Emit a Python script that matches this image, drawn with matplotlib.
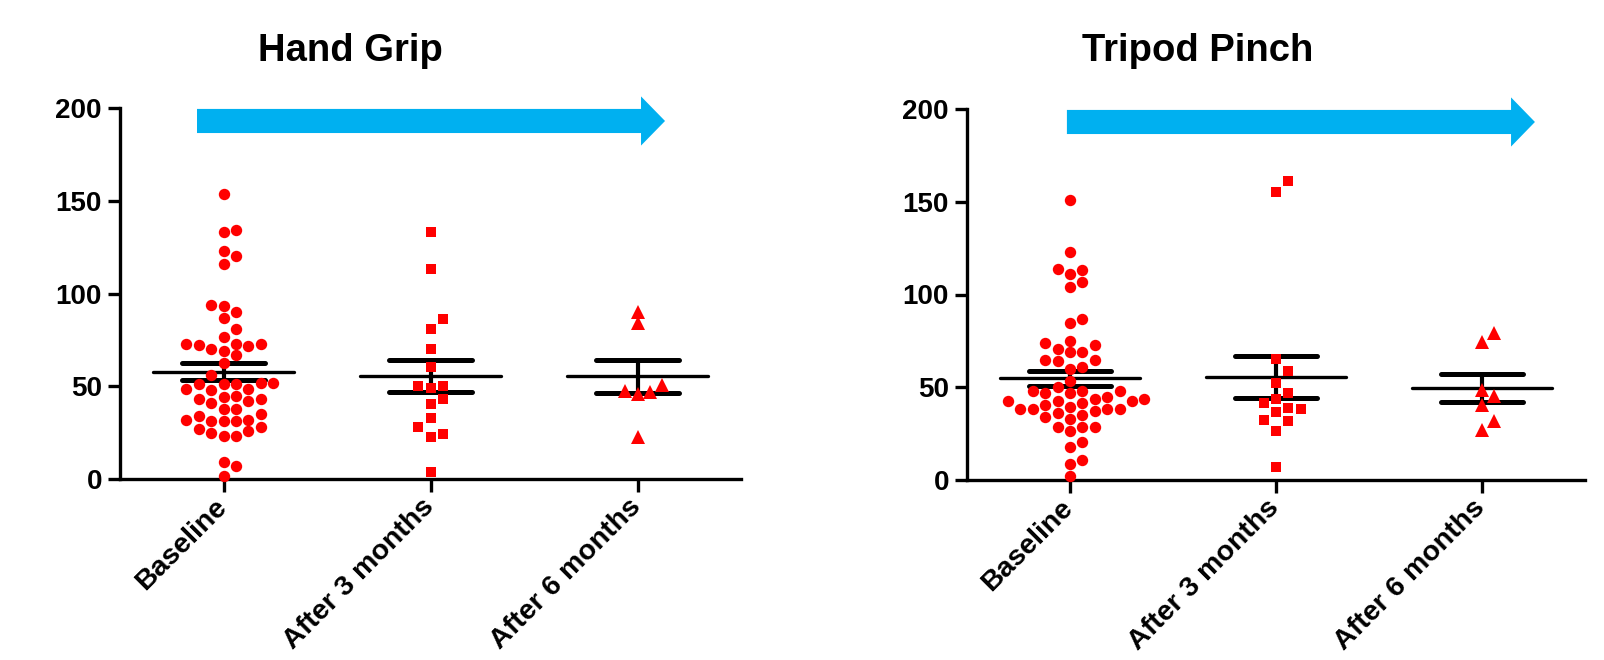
import numpy as np
import matplotlib.pyplot as plt
import matplotlib.transforms as mtransforms
from matplotlib.patches import FancyArrow

plt.rcParams['font.family'] = ['Liberation Sans', 'DejaVu Sans']
plt.rcParams['font.weight'] = 'bold'

# ---------------------------------------------
#  Data
# ---------------------------------------------
categories = ['Baseline', 'After 3 months', 'After 6 months']
titles = ['Hand Grip', 'Tripod Pinch']
y_ticks = [0, 50, 100, 150, 200]

grip_baseline = [153.5, 133, 134, 123, 120, 116, 93, 94, 90, 87, 81, 76.5,
                 73, 73, 71.6, 69, 70, 72, 73, 67, 62.5, 56,
                 52, 51, 51, 51, 52, 48.3, 48, 48.3,
                 44.7, 43, 43, 44, 42, 41, 37.7, 38,
                 34, 32, 31, 31, 31, 32, 35,
                 27, 25, 23, 23, 26, 28, 9.3, 7, 1.6]
grip_3m = [133, 113, 86, 81, 70, 60.5, 50.3, 48.8, 50.3, 43, 40.4, 33,
           28.2, 24, 22.8, 4]
grip_6m = [90, 84, 50.6, 46.7, 45.8, 47.6, 22.8]

pinch_baseline = [150.9, 123, 113.8, 110.8, 113, 106.9, 103.8, 84.8, 86.7,
                  74, 74.9, 72.7, 70.7, 68.8, 69, 64.7, 63.9, 64.7, 61, 59.6,
                  53.2, 49.9, 48.1,
                  47.8, 46.7, 43.8, 42.7, 42.7, 41.6, 42.7, 43.8, 44.5, 46.7, 47.8,
                  39.3, 38.4, 38.4, 36.2, 33.9, 34.8, 37.1, 38.4, 38.4, 40.4,
                  32.7, 28.7, 28.7, 26.6, 28.7, 17.6, 20.6, 10.8, 8.6, 2.2]
pinch_3m = [161, 155, 65, 58.7, 52.4, 46.7, 43.6, 38.1, 38.6, 41.3, 36.8,
            31.8, 32.3, 26.6, 6.8]
pinch_6m = [79.4, 74.5, 48.5, 45.3, 40.4, 32, 26.9]

panels = [
    [grip_baseline, grip_3m, grip_6m],
    [pinch_baseline, pinch_3m, pinch_6m],
]

MARKERS = ['o', 's', '^']
MSIZES = [8.2, 7.6, 9.5]
GAPS = [11.0, 12.0, 11.0]   # min vertical distance (px) inside one column
RED = '#FF0000'
BLUE = '#00B0F0'

FIG_W, FIG_H = 1604, 660
# axes boxes in pixels: left, bottom, width, height
AX_PX = [(120, 181, 621, 371), (967, 180, 618, 371)]
TITLE_X = [350, 1198]
ARROWS = [(-0.128, 2.133), (-0.015, 2.257)]   # start / tip in x data units


def swarm_columns(values, px_per_unit, gap_px):
    # simple beeswarm: every point goes to the nearest free column
    order = np.argsort(values)
    placed = {}
    cols = np.zeros(len(values), dtype=int)
    cand = [0]
    for s in range(1, 30):
        cand += [s, -s]
    for i in order:
        y = values[i] * px_per_unit
        for c in cand:
            if all(abs(y - yy) >= gap_px for yy in placed.get(c, [])):
                break
        placed.setdefault(c, []).append(y)
        cols[i] = c
    return cols


fig = plt.figure(figsize=(FIG_W / 100, FIG_H / 100), dpi=100)

for p, groups in enumerate(panels):
    l, b, w, h = AX_PX[p]
    ax = fig.add_axes([l / FIG_W, b / FIG_H, w / FIG_W, h / FIG_H])
    ax.set_xlim(-0.5, 2.5)
    ax.set_ylim(0, 200)
    px_y = h / 200.0
    px_x = w / 3.0
    step = 12.4 / px_x

    for i, vals in enumerate(groups):
        vals = np.array(vals, dtype=float)
        cols = swarm_columns(vals, px_y, GAPS[i])
        ax.plot(i + cols * step, vals, linestyle='none', marker=MARKERS[i],
                markersize=MSIZES[i], color=RED, markeredgewidth=0,
                zorder=5, clip_on=False)

        m = vals.mean()
        sem = vals.std(ddof=1) / np.sqrt(len(vals))
        ax.hlines(m, i - 0.34, i + 0.34, color='black', lw=2.4, zorder=3,
                  capstyle='round')
        ax.vlines(i, m - sem, m + sem, color='black', lw=3.0, zorder=3)
        ax.hlines([m - sem, m + sem], i - 0.2, i + 0.2, color='black', lw=3.6,
                  zorder=3, capstyle='round')

    x0, x1 = ARROWS[p]
    arr = FancyArrow(x0, 193, x1 - x0, 0, width=13, head_width=26.5,
                     head_length=0.116, length_includes_head=True,
                     color=BLUE, lw=0, clip_on=False, zorder=6)
    ax.add_patch(arr)

    for s in ['top', 'right']:
        ax.spines[s].set_visible(False)
    for s in ['left', 'bottom']:
        ax.spines[s].set_linewidth(2.4)

    ax.set_yticks(y_ticks)
    ax.set_xticks(range(len(categories)))
    ax.set_xticklabels(categories, rotation=45, ha='right', va='top',
                       rotation_mode='anchor', fontsize=20.5, fontweight='bold')
    ax.tick_params(axis='y', length=9, width=2.4, labelsize=20, pad=4)
    ax.tick_params(axis='x', length=9, width=2.4, pad=0.5)
    for t in ax.get_yticklabels():
        t.set_fontweight('bold')
    # nudge rotated labels a little left, as in the original
    shift = mtransforms.ScaledTranslation(-7 / 72, -1 / 72, fig.dpi_scale_trans)
    for t in ax.get_xticklabels():
        t.set_transform(t.get_transform() + shift)

    fig.text(TITLE_X[p] / FIG_W, 1 - 60.7 / FIG_H, titles[p], ha='center',
             va='baseline', fontsize=27.5, fontweight='bold')

fig.savefig('out.png', dpi=100)
